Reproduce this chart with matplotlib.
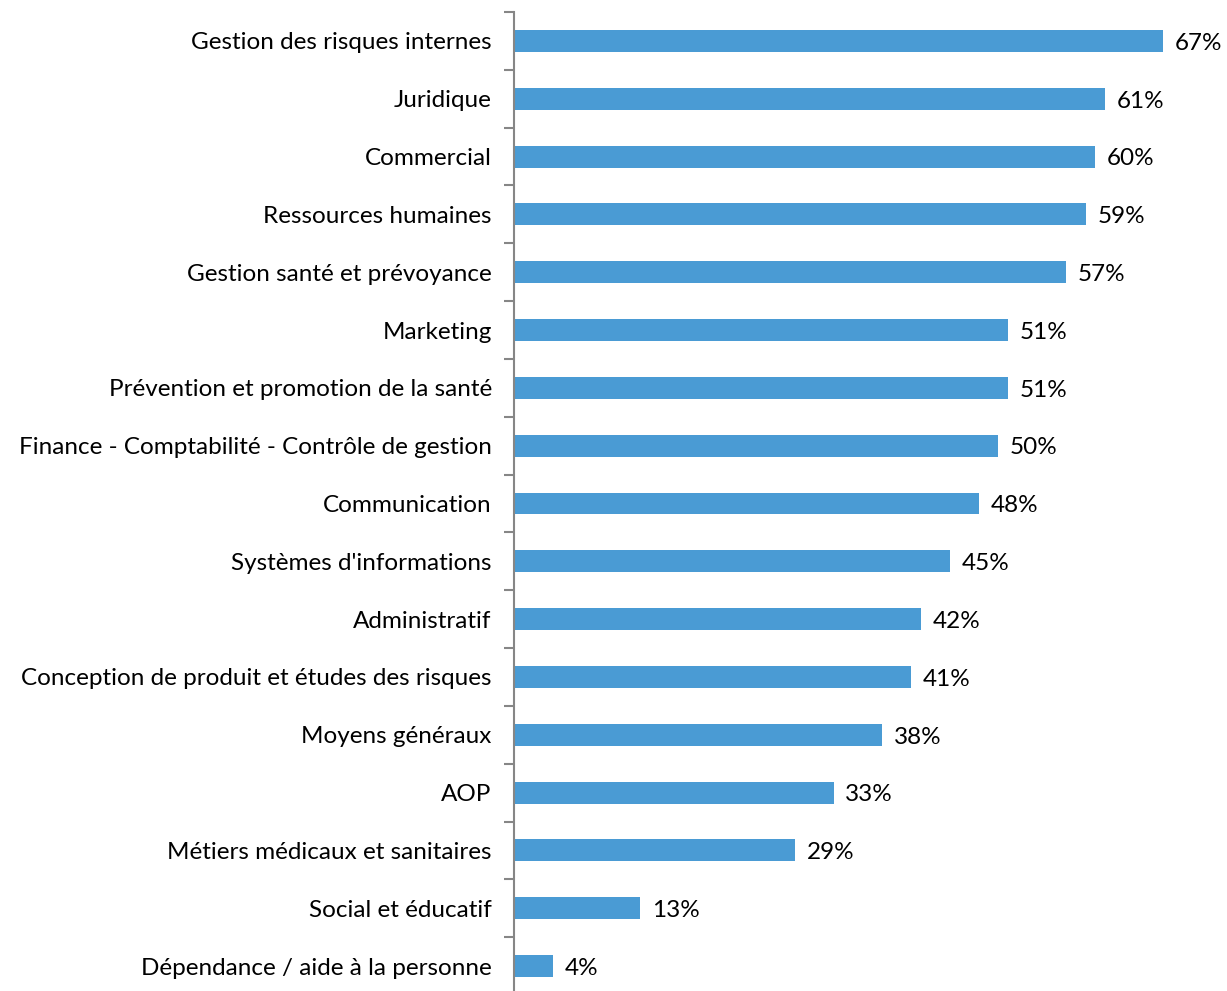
import matplotlib
matplotlib.use('Agg')
import matplotlib.pyplot as plt
import numpy as np

categories = [
    'Gestion des risques internes',
    'Juridique',
    'Commercial',
    'Ressources humaines',
    'Gestion santé et prévoyance',
    'Marketing',
    'Prévention et promotion de la santé',
    'Finance - Comptabilité - Contrôle de gestion',
    'Communication',
    "Systèmes d'informations",
    'Administratif',
    'Conception de produit et études des risques',
    'Moyens généraux',
    'AOP',
    'Métiers médicaux et sanitaires',
    'Social et éducatif',
    'Dépendance / aide à la personne',
]
values = [67, 61, 60, 59, 57, 51, 51, 50, 48, 45, 42, 41, 38, 33, 29, 13, 4]

plt.rcParams['font.family'] = ['Lato', 'DejaVu Sans']

fig = plt.figure(figsize=(12.27, 9.91), dpi=100)
ax = fig.add_axes([514 / 1227, -4 / 991, 713 / 1227, 983 / 991])

y = np.arange(len(categories))
ax.barh(y, values, height=0.38, color='#4a9bd4')
for yi, v in zip(y, values):
    ax.text(v + 1.2, yi + 0.04, '%d%%' % v, va='center', ha='left',
            fontsize=17.5, color='black', clip_on=False)

ax.set_ylim(len(categories) - 0.5, -0.5)
ax.set_xlim(0, 73.6)

ax.set_yticks(y)
ax.set_yticklabels(categories, fontsize=17.5)
ax.tick_params(axis='y', which='major', length=0, pad=16)
ax.set_yticks(np.arange(len(categories) + 1) - 0.5, minor=True)
ax.tick_params(axis='y', which='minor', length=7, width=1.5, color='#868686')
ax.set_xticks([])

for s in ['top', 'right', 'bottom']:
    ax.spines[s].set_visible(False)
ax.spines['left'].set_color('#868686')
ax.spines['left'].set_linewidth(1.5)

fig.savefig('out.png', dpi=100)
